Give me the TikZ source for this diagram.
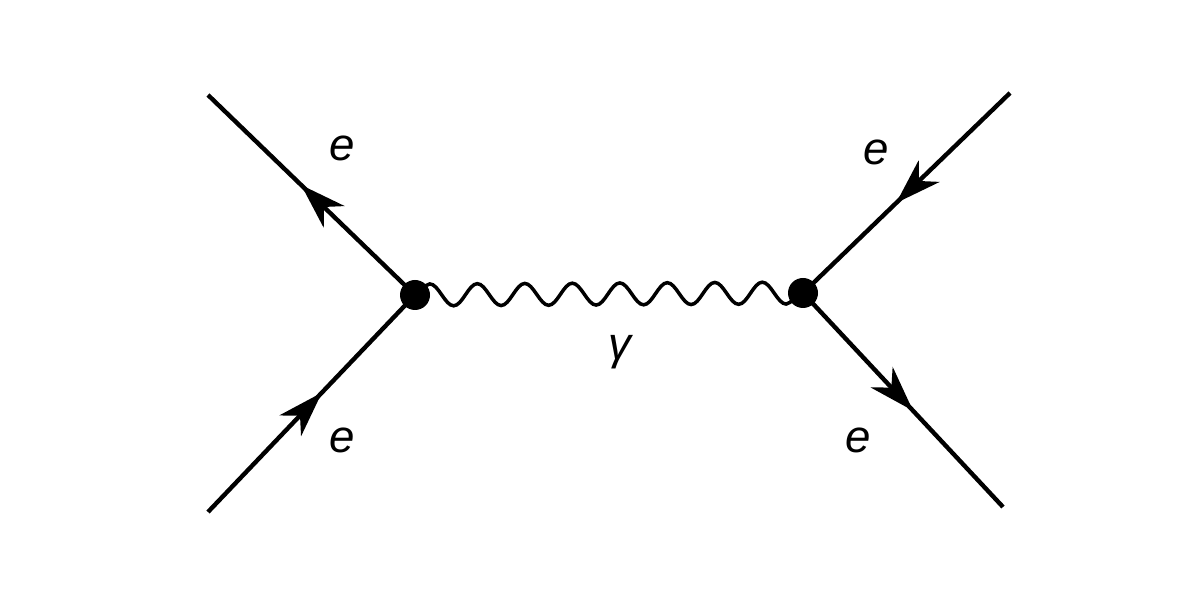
\documentclass[tikz,border=0pt]{standalone}
\usepackage{fontspec}
\setmainfont{Liberation Sans}
\usetikzlibrary{arrows.meta,decorations.markings,decorations.pathmorphing}
\tikzset{
  fermion/.style={line width=2.5pt, postaction={decorate},
    decoration={markings, mark=at position 0.55 with {\arrow{Stealth[length=26pt,width=17pt,inset=8pt]}}}},
  photon/.style={line width=2pt, decorate,
    decoration={snake, segment length=0.95cm, amplitude=0.22cm}},
  vertex/.style={circle, fill, inner sep=0pt, minimum size=0.6cm},
  lbl/.style={font=\fontsize{26}{30}\selectfont\itshape}
}
\begin{document}
\begin{tikzpicture}
        \useasboundingbox (0,0) rectangle (23.72,11.96);
        % Vertices
        \node[vertex] (v1) at (8.3,6.06) {};
        \node[vertex] (v2) at (16.06,6.1) {};
        
        % External ends
        \coordinate (a1) at (4.16,1.72);
        \coordinate (a2) at (4.16,10.06);
        \coordinate (b1) at (20.2,10.1);
        \coordinate (b2) at (20.06,1.82);
        
        % Lines
        \draw[fermion] (a1) -- (v1.center);
        \draw[fermion] (v1.center) -- (a2);
        \draw[fermion] (b1) -- (v2.center);
        \draw[fermion] (v2.center) -- (b2);
        \draw[photon] (v1.center) -- (v2.center);
        
        % Labels
        \node[lbl] (e1) at (6.84,9.0) {e};
        \node[lbl] (e2) at (6.84,3.16) {e};
        \node[lbl] (e3) at (17.52,8.92) {e};
        \node[lbl] (e4) at (17.16,3.16) {e};
        \node[lbl] (g) at (12.4,4.92) {γ};
\end{tikzpicture}
\end{document}
